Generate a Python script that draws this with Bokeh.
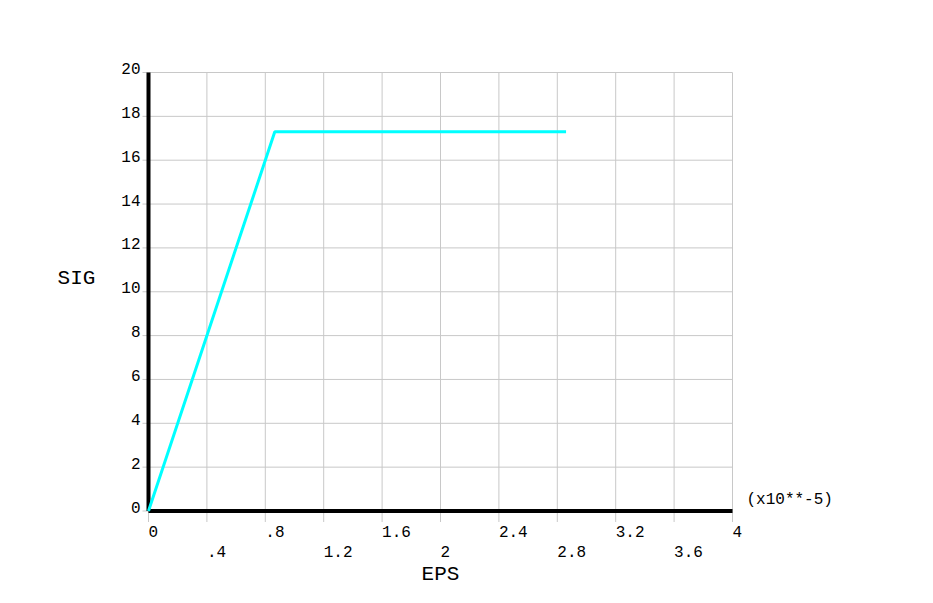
import math
from bokeh.plotting import figure
from bokeh.models import Range1d
from bokeh.core.properties import value
from bokeh.embed import file_html
from bokeh.resources import INLINE

# ---- data ----
eps = [0.0, 0.865, 2.86]          # x10**-5
sig = [0.0, 17.3, 17.3]
x_ticks = [0, 0.4, 0.8, 1.2, 1.6, 2.0, 2.4, 2.8, 3.2, 3.6, 4.0]
x_top_ticks = [0, 0.8, 1.6, 2.4, 3.2, 4.0]
x_top_labels = ["0", ".8", "1.6", "2.4", "3.2", "4"]
x_bot_ticks = [0.4, 1.2, 2.0, 2.8, 3.6]
x_bot_labels = [".4", "1.2", "2", "2.8", "3.6"]
y_ticks = [0, 2, 4, 6, 8, 10, 12, 14, 16, 18, 20]
y_labels = ["0", "2", "4", "6", "8", "10", "12", "14", "16", "18", "20"]
x_title = "EPS"
y_title = "SIG"
x_scale_note = "(x10**-5)"

FONT = value("Liberation Mono")
GRID = "#c8c8c8"

W, H = 917, 587
# pixel placement of the data area
LEFT, TOP, X_PX, Y_PX = 148.0, 72.0, 146.0, 21.925
xmin, xmax, ymin, ymax = x_ticks[0], x_ticks[-1], y_ticks[0], y_ticks[-1]
x_start = xmin - LEFT / X_PX
x_end = x_start + W / X_PX
y_end = ymax + TOP / Y_PX
y_start = y_end - H / Y_PX

p = figure(width=W, height=H, output_backend="svg", toolbar_location=None,
           x_range=Range1d(x_start, x_end), y_range=Range1d(y_start, y_end),
           x_axis_location=None, y_axis_location=None,
           min_border=0)
p.outline_line_color = None
p.xgrid.visible = False
p.ygrid.visible = False
p.background_fill_color = "white"
p.border_fill_color = "white"

n_x, n_y = len(x_ticks), len(y_ticks)
# grid lines
p.segment(x0=x_ticks, y0=[ymin] * n_x, x1=x_ticks, y1=[ymax] * n_x,
          line_color=GRID, line_width=1)
p.segment(x0=[xmin] * n_y, y0=y_ticks, x1=[xmax] * n_y, y1=y_ticks,
          line_color=GRID, line_width=1)
# tick marks outside the axes
p.ray(x=x_ticks, y=[ymin] * n_x, length=11, length_units="screen",
      angle=-math.pi / 2, line_color=GRID, line_width=1)
p.ray(x=[xmin] * n_y, y=y_ticks, length=6, length_units="screen",
      angle=math.pi, line_color=GRID, line_width=1)

# axis lines
p.segment(x0=[xmin, xmin], y0=[ymin, ymin], x1=[xmin, xmax], y1=[ymax, ymin],
          line_color="black", line_width=4)

# curve
p.line(eps, sig, line_color="#00ffff", line_width=3)

# y tick labels
p.text(x=[xmin] * n_y, y=y_ticks, text=y_labels, x_offset=-8, y_offset=-4,
       text_align="right", text_baseline="middle",
       text_font=FONT, text_font_size="16px", text_color="black")
# staggered x tick labels
p.text(x=x_top_ticks, y=[ymin] * len(x_top_ticks), text=x_top_labels,
       y_offset=20.5, text_align="left", text_baseline="middle",
       text_font=FONT, text_font_size="16px", text_color="black")
p.text(x=x_bot_ticks, y=[ymin] * len(x_bot_ticks), text=x_bot_labels,
       y_offset=40, text_align="left", text_baseline="middle",
       text_font=FONT, text_font_size="16px", text_color="black")

# axis titles
ymid = (ymin + ymax) / 2
xmid = (xmin + xmax) / 2
p.text(x=[xmin], y=[ymid], text=[y_title], x_offset=-72, y_offset=-13,
       text_align="center", text_baseline="middle",
       text_font=FONT, text_font_size="21px", text_color="black")
p.text(x=[xmid], y=[ymin], text=[x_title], y_offset=63.5,
       text_align="center", text_baseline="middle",
       text_font=FONT, text_font_size="21px", text_color="black")
p.text(x=[xmax], y=[ymin], text=[x_scale_note], x_offset=14, y_offset=-11.5,
       text_align="left", text_baseline="middle",
       text_font=FONT, text_font_size="16px", text_color="black")

open("out.html", "w").write(file_html(p, INLINE))
